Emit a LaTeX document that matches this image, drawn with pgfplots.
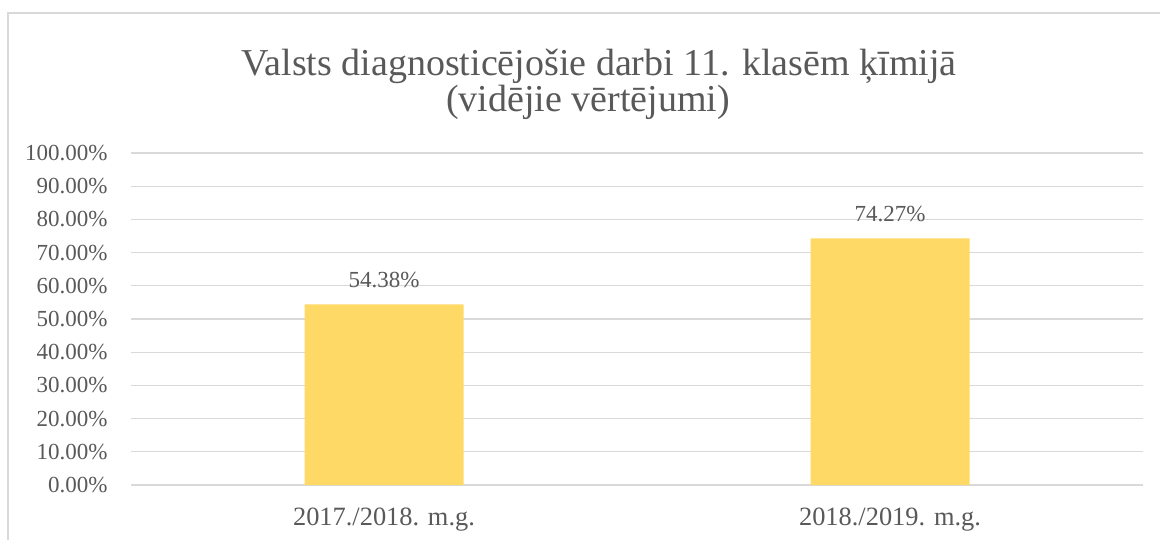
\documentclass[border=0pt]{standalone}
\usepackage{fontspec}
\setmainfont{Liberation Serif}
\usepackage{pgfplots}
\pgfplotsset{compat=1.18}
\definecolor{txt}{HTML}{595959}
\definecolor{grd}{HTML}{D9D9D9}
\definecolor{bar}{HTML}{FFD966}
\begin{document}
\begin{tikzpicture}
\useasboundingbox (0,0) rectangle (580bp,270bp);
\begin{scope}
\clip (0,0) rectangle (580bp,270bp);
\fill[white] (0,0) rectangle (580bp,270bp);
\draw[grd, line width=1bp] (4bp,-20bp) rectangle (620bp,263.25bp);
\end{scope}
\node[txt, anchor=base, inner sep=0pt, font=\fontsize{19bp}{22bp}\selectfont] at (299.5bp,232bp) {Valsts diagnosticējošie darbi 11. klasēm ķīmijā};
\node[txt, anchor=base, inner sep=0pt, font=\fontsize{19bp}{22bp}\selectfont] at (294bp,214bp) {(vidējie vērtējumi)};
\begin{axis}[
  at={(65.5bp,27.5bp)}, anchor=south west,
  scale only axis, width=506bp, height=166bp,
  xmin=-0.5, xmax=1.5, ymin=0, ymax=100,
  axis line style={draw=none},
  ybar, bar width=79.5bp,
  xtick=data, xticklabels={2017./2018. m.g., 2018./2019. m.g.},
  ytick={0,10,...,100},
  major tick length=0pt,
  ymajorgrids, grid style={grd, line width=0.6bp},
  /pgf/number format/assume math mode=true,
  tick label style={txt, font=\fontsize{11.5bp}{13bp}\selectfont},
  yticklabel={\pgfmathprintnumber[fixed,fixed zerofill,precision=2]{\tick}\%},
  yticklabel style={anchor=east, inner sep=0pt, xshift=-11.5bp},
  xticklabel style={anchor=base, inner sep=0pt, yshift=-20bp, font=\fontsize{13.2bp}{15bp}\selectfont},
  nodes near coords={\pgfmathprintnumber[fixed,fixed zerofill,precision=2,assume math mode=true]{\pgfplotspointmeta}\%},
  every node near coord/.append style={txt, anchor=base, inner sep=0pt, yshift=8.5bp, font=\fontsize{11.5bp}{13bp}\selectfont},
  clip=false,
]
\addplot[fill=bar, draw=none] coordinates {(0,54.38) (1,74.27)};
\end{axis}
\end{tikzpicture}
\end{document}
